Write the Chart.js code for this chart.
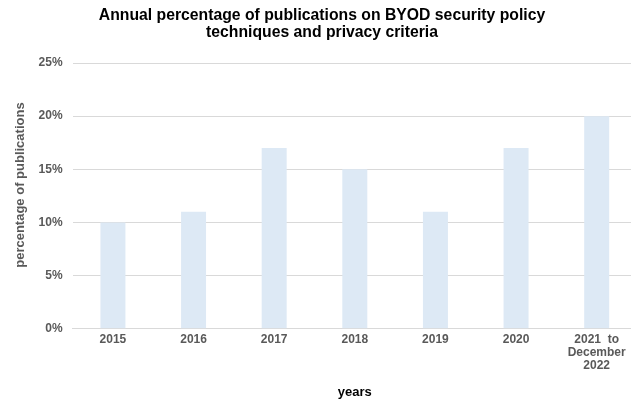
<!DOCTYPE html>
<html><head><meta charset="utf-8">
<script src="https://cdn.jsdelivr.net/npm/chart.js@4"></script>
<style>html,body{margin:0;padding:0;overflow:hidden;background:#fff}#wrap{width:647px;height:402px;margin-left:-10px}</style>
</head><body><div id="wrap"><canvas id="c" width="647" height="402"></canvas></div>
<script>
const categories = ["2015","2016","2017","2018","2019","2020",["2021  to","December","2022"]];
const percentages = [10, 11, 17, 15, 11, 17, 20];
const titleLines = ["Annual percentage of publications on BYOD security policy","techniques and privacy criteria"];
const FONT = "'Liberation Sans', Arial, Helvetica, sans-serif";
new Chart(document.getElementById('c'), {
  type: 'bar',
  data: { labels: categories, datasets: [{ data: percentages, backgroundColor: '#dde9f5', borderWidth: 0, categoryPercentage: 1, barPercentage: 0.31 }] },
  options: {
    responsive: false, animation: false,
    layout: { padding: { left: 17, right: 0, top: 4, bottom: 0 } },
    plugins: {
      legend: { display: false }, tooltip: { enabled: false },
      title: { display: true, text: titleLines, color: '#000', font: { family: FONT, size: 15.75, weight: 'bold', lineHeight: 1.08 }, padding: { top: 3, bottom: 22 }, align: 'center' }
    },
    scales: {
      x: {
        grid: { display: false, drawTicks: false }, border: { display: true, color: '#d9d9d9' },
        ticks: { color: '#595959', font: { family: FONT, size: 12, weight: 'bold', lineHeight: 1.1 }, maxRotation: 0, padding: 4 },
        title: { display: true, text: 'years', color: '#000', font: { family: FONT, size: 13, weight: 'bold' }, padding: { top: 8, bottom: 2 } }
      },
      y: {
        min: 0, max: 25,
        ticks: { stepSize: 5, color: '#595959', font: { family: FONT, size: 12, weight: 'bold' }, padding: 10, callback: v => v + '%' },
        grid: { color: '#d9d9d9', drawTicks: false }, border: { display: false },
        title: { display: true, text: '      percentage of publications', color: '#595959', font: { family: FONT, size: 13, weight: 'bold' }, padding: { top: 6, bottom: 0 } }
      }
    }
  }
});
</script></body></html>
